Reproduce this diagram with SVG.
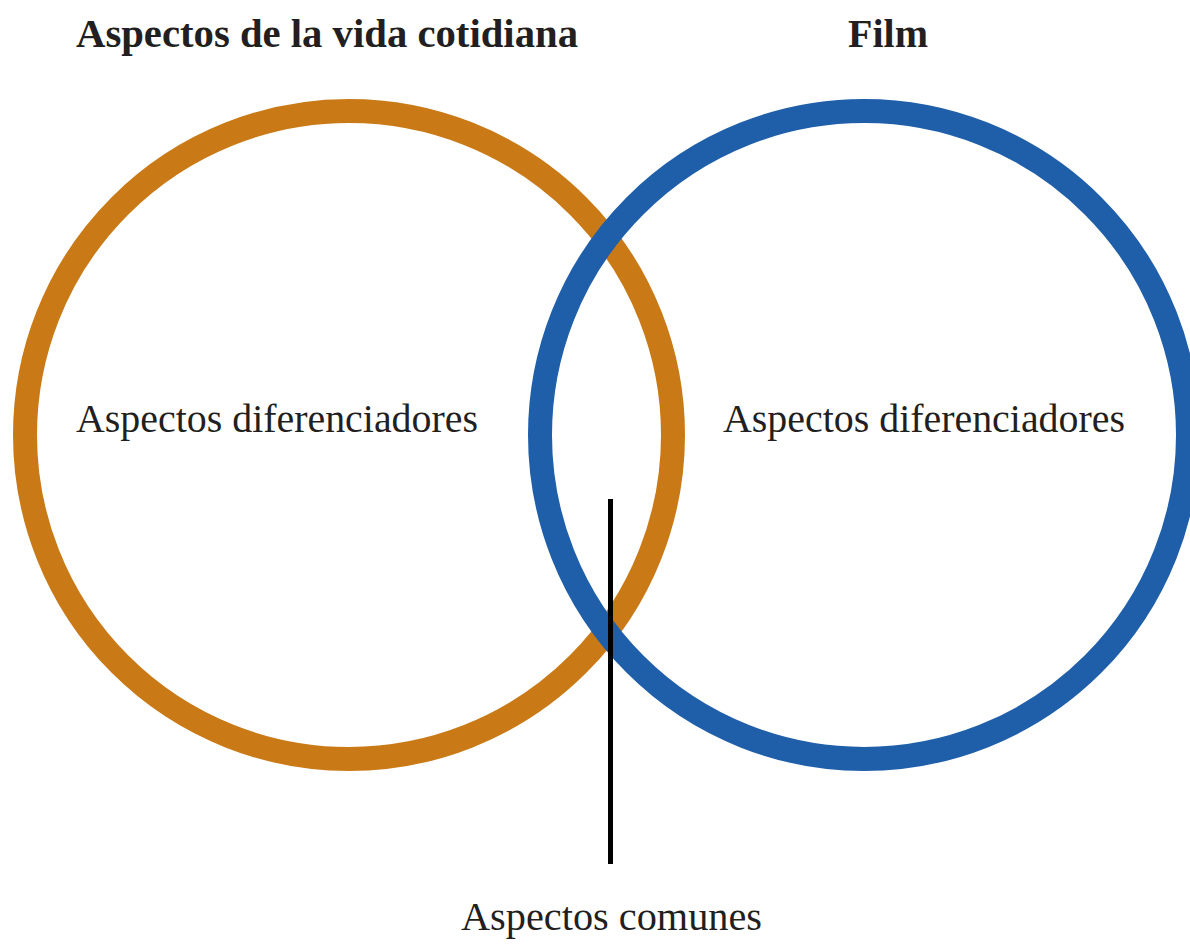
<svg xmlns="http://www.w3.org/2000/svg" width="1190" height="944" viewBox="0 0 1190 944">
<style>
.title{font-family:"Liberation Serif",serif;font-weight:bold;font-size:40px;fill:#231f20}
.lbl{font-family:"Liberation Serif",serif;font-size:41px;fill:#231f20}
.ring{fill:none;stroke-width:24}
</style>
<rect width="1190" height="944" fill="#fff"/>
<g id="title-left"><text class="title" x="76" y="47" textLength="502" lengthAdjust="spacingAndGlyphs">Aspectos de la vida cotidiana</text></g>
<g id="title-right"><text class="title" x="848" y="47" textLength="80" lengthAdjust="spacingAndGlyphs">Film</text></g>
<g id="circle-left"><circle class="ring" cx="349" cy="435" r="324" stroke="#c97a17"/></g>
<g id="circle-right"><circle class="ring" cx="864" cy="435" r="324" stroke="#1f5fa9"/></g>
<g id="label-left"><text class="lbl" x="76" y="432" textLength="402" lengthAdjust="spacingAndGlyphs">Aspectos diferenciadores</text></g>
<g id="label-right"><text class="lbl" x="723" y="432" textLength="402" lengthAdjust="spacingAndGlyphs">Aspectos diferenciadores</text></g>
<g id="connectors"><line x1="610.5" y1="499" x2="610.5" y2="864" stroke="#000" stroke-width="5"/></g>
<g id="label-common"><text class="lbl" x="461" y="930" textLength="301" lengthAdjust="spacingAndGlyphs">Aspectos comunes</text></g>
</svg>
